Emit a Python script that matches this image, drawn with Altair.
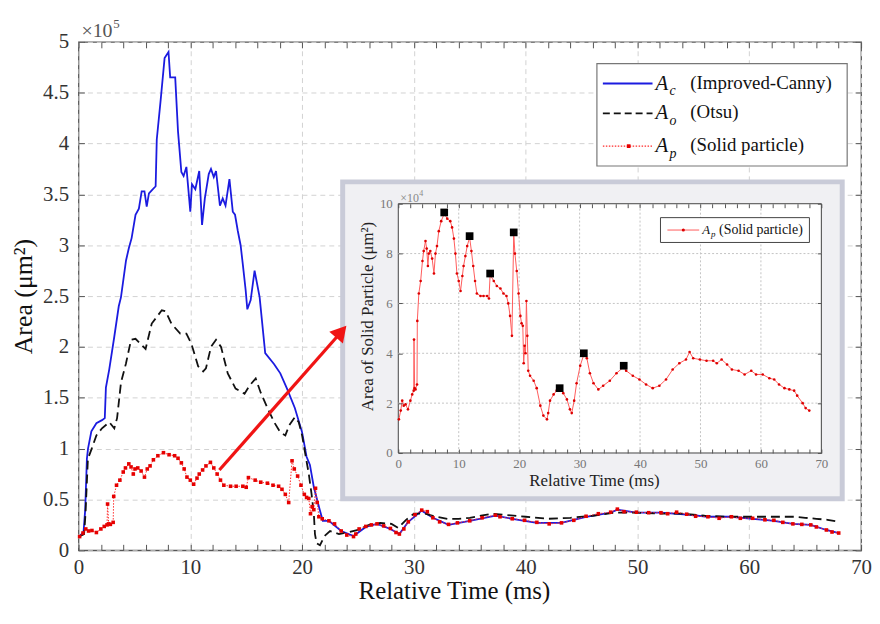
import altair as alt
import pandas as pd

# ---------------- data ----------------
# A_c (Improved-Canny), area in units of 1e5 um^2
canny_t = [0.1, 0.45, 0.6, 0.75, 0.85, 1.15, 1.6, 2.1, 2.35, 2.45,
           2.75, 3.2, 3.6, 3.8, 4.25, 4.5, 4.75, 5.1, 5.4, 5.65,
           5.9, 6.1, 6.3, 6.55, 6.9, 7.0, 7.35, 7.7, 8.05, 8.2,
           8.65, 8.9, 9.2, 9.4, 9.65, 10.0, 10.15, 10.45, 10.8, 11.05,
           11.3, 11.65, 11.85, 12.1, 12.3, 12.65, 12.9, 13.15, 13.5, 13.8,
           14.0, 14.25, 14.5, 14.7, 14.95, 15.1, 15.4, 15.75, 16.2, 16.7,
           17.5, 18.05, 18.65, 19.35, 20.0, 20.4, 20.7, 21.05, 21.5, 21.85,
           22.4, 23.5, 24.6, 25.7, 26.7, 27.9, 28.7, 29.5, 30.7, 31.7,
           33.1, 35.0, 37.3, 38.8, 41.0, 43.2, 45.4, 47.6, 48.2, 49.9,
           52.1, 54.4, 56.3, 58.4, 60.3, 62.2, 63.9, 65.5, 66.9, 68.0]
canny_a = [0.14, 0.18, 0.4, 0.9, 1.0, 1.17, 1.25, 1.28, 1.3, 1.6,
           1.78, 2.1, 2.4, 2.49, 2.85, 2.97, 3.07, 3.3, 3.36, 3.53,
           3.53, 3.38, 3.51, 3.54, 3.58, 4.04, 4.43, 4.84, 4.9, 4.65,
           4.65, 4.12, 3.72, 3.68, 3.77, 3.33, 3.6, 3.55, 3.73, 3.2,
           3.46, 3.7, 3.75, 3.67, 3.73, 3.39, 3.46, 3.39, 3.65, 3.33,
           3.3, 3.14, 3.0, 2.81, 2.56, 2.37, 2.46, 2.75, 2.49, 1.94,
           1.83, 1.74, 1.59, 1.40, 1.16, 0.92, 0.84, 0.62, 0.43, 0.29,
           0.29, 0.19, 0.14, 0.23, 0.26, 0.21, 0.16, 0.28, 0.39, 0.32,
           0.25, 0.29, 0.34, 0.31, 0.27, 0.27, 0.33, 0.37, 0.40, 0.37,
           0.37, 0.35, 0.33, 0.33, 0.31, 0.29, 0.26, 0.25, 0.20, 0.17]

# A_o (Otsu), area in units of 1e5 um^2
otsu_t = [0.1, 0.5, 0.62, 0.84, 1.15, 1.6, 2.1, 2.75, 3.2, 3.45,
          3.8, 4.25, 4.7, 5.1, 6.0, 6.55, 7.45, 7.8, 8.3, 9.1,
          9.65, 10.1, 10.7, 11.15, 11.4, 11.85, 12.3, 12.75, 13.35, 14.05,
          14.85, 15.3, 15.85, 16.3, 16.9, 17.5, 18.05, 18.5, 18.85, 19.35,
          19.7, 20.0, 20.25, 20.6, 20.85, 21.05, 21.15, 21.3, 21.6, 22.0,
          22.5, 23.3, 24.2, 25.0, 26.0, 27.0, 28.0, 28.6, 29.3, 30.0,
          31.0, 32.0, 33.0, 34.0, 35.0, 36.0, 37.0, 38.0, 40.0, 42.0,
          44.0, 46.0, 48.0, 50.0, 52.0, 54.0, 56.0, 58.0, 60.0, 62.0,
          64.0, 65.0, 66.0, 67.0, 68.0]
otsu_a = [0.14, 0.16, 0.35, 0.9, 0.99, 1.13, 1.2, 1.26, 1.2, 1.3,
          1.65, 1.84, 2.07, 2.08, 1.98, 2.23, 2.36, 2.35, 2.23, 2.13,
          2.13, 2.03, 1.81, 1.76, 1.79, 2.0, 2.07, 2.0, 1.74, 1.59,
          1.54, 1.62, 1.69, 1.55, 1.40, 1.26, 1.16, 1.13, 1.23, 1.31,
          1.26, 1.13, 0.97, 0.75, 0.55, 0.36, 0.16, 0.07, 0.05, 0.14,
          0.19, 0.16, 0.18, 0.2, 0.25, 0.27, 0.26, 0.22, 0.3, 0.36,
          0.36, 0.33, 0.31, 0.31, 0.32, 0.34, 0.36, 0.35, 0.33, 0.31,
          0.32, 0.34, 0.37, 0.37, 0.36, 0.36, 0.34, 0.33, 0.33, 0.33,
          0.33, 0.32, 0.31, 0.3, 0.28]

# A_p (Solid particle), area in units of 1e4 um^2
solid_t = [0.1, 0.4, 0.65, 0.9, 1.2, 1.6, 2.0, 2.3, 2.55, 2.6,
           2.7, 2.85, 3.1, 3.15, 3.4, 3.7, 4.0, 4.2, 4.5, 4.7,
           4.9, 5.05, 5.3, 5.6, 5.9, 6.15, 6.4, 6.7, 7.1, 7.6,
           8.1, 8.6, 8.9, 9.2, 9.45, 9.7, 10.0, 10.3, 10.6, 10.8,
           11.1, 11.4, 11.8, 12.1, 12.4, 12.7, 13.0, 13.6, 14.1, 14.7,
           15.0, 15.2, 15.8, 16.3, 16.9, 17.4, 17.9, 18.2, 18.5, 18.8,
           19.1, 19.3, 19.6, 19.9, 20.2, 20.4, 20.6, 20.75, 20.9, 21.05,
           21.2, 21.35, 21.5, 21.8, 22.4, 22.9, 23.5, 24.0, 24.6, 24.8,
           25.1, 25.7, 26.2, 26.7, 27.3, 27.9, 28.4, 28.7, 29.1, 29.5,
           30.1, 30.7, 31.2, 31.7, 32.3, 33.1, 33.9, 35.0, 36.1, 37.3,
           37.7, 38.8, 39.9, 41.0, 42.1, 43.2, 44.3, 45.4, 46.5, 47.6,
           48.2, 48.8, 49.9, 51.0, 52.1, 52.7, 53.5, 54.4, 55.2, 56.3,
           57.3, 58.4, 59.2, 60.3, 61.4, 62.2, 63.0, 63.9, 64.7, 65.5,
           66.0, 66.9, 67.4, 68.0]
solid_a = [1.35, 1.7, 2.1, 1.9, 1.95, 1.75, 2.1, 2.35, 2.5, 4.55,
           2.6, 2.55, 2.75, 5.3, 6.4, 6.9, 7.7, 8.1, 8.5, 8.2,
           7.5, 8.0, 8.1, 7.8, 7.2, 8.0, 8.3, 8.9, 9.3, 9.6,
           9.4, 9.3, 9.05, 8.6, 8.0, 7.2, 6.9, 6.5, 7.1, 7.5,
           7.9, 8.3, 8.65, 8.1, 7.5, 6.9, 6.4, 6.3, 6.3, 6.3,
           6.2, 7.15, 6.9, 6.7, 6.6, 6.4, 6.3, 6.0, 5.5, 4.7,
           8.8, 8.0, 7.3, 6.4, 5.5, 5.2, 5.1, 3.6, 4.3, 4.0,
           6.1, 4.7, 3.3, 3.1, 2.9, 2.6, 1.9, 1.5, 1.35, 1.6,
           2.1, 2.35, 2.5, 2.6, 2.4, 2.15, 1.75, 1.6, 2.1, 2.8,
           3.5, 3.95, 3.8, 3.2, 2.8, 2.55, 2.7, 2.9, 3.2, 3.45,
           3.3, 3.1, 2.95, 2.75, 2.6, 2.7, 2.95, 3.35, 3.6, 3.75,
           4.05, 3.8, 3.75, 3.7, 3.7, 3.6, 3.75, 3.55, 3.35, 3.3,
           3.15, 3.3, 3.15, 3.15, 3.0, 2.95, 2.75, 2.6, 2.55, 2.5,
           2.3, 2.0, 1.8, 1.7]

# marked peaks in the inset (units of 1e4 um^2)
peak_t = [7.6, 11.8, 15.2, 19.1, 26.7, 30.7, 37.3]
peak_a = [9.65, 8.7, 7.2, 8.85, 2.6, 4.0, 3.5]

# axis tick values
x_ticks = [0, 10, 20, 30, 40, 50, 60, 70]
x_minor = list(range(0, 71, 2))
y_ticks = [0, 0.5, 1, 1.5, 2, 2.5, 3, 3.5, 4, 4.5, 5]
inset_y_ticks = [0, 2, 4, 6, 8, 10]
inset_grid_x = [10, 20, 30, 40, 50, 60]
inset_grid_y = [2, 4, 6, 8]

# annotation arrow (main-chart data coordinates)
arrow_t = [12.6, 23.2]
arrow_a = [0.79, 2.11]
arrow_head_t = [23.5]
arrow_head_a = [2.15]

legend_subs = ["c", "o", "p"]
legend_labels = ["(Improved-Canny)", "(Otsu)", "(Solid particle)"]

# ---------------- layout ----------------
FONT = "Liberation Serif"
W, H = 788, 512
IN_X = [322, 748]
IN_Y = [414, 163]

sx = alt.Scale(domain=[0, 70], nice=False, zero=False)
sy = alt.Scale(domain=[0, 5], nice=False, zero=False)
sxi = alt.Scale(domain=[0, 70], range=IN_X, nice=False, zero=False)
syi = alt.Scale(domain=[0, 10], range=IN_Y, nice=False, zero=False)


def tick_axis(orient, offset, values, size=6, z=0):
    return alt.Axis(orient=orient, offset=offset, values=values, labels=False,
                    domain=False, grid=False, ticks=True, tickSize=size,
                    tickColor="#555", tickWidth=1, title=None, zindex=z)


canny_df = pd.DataFrame({"t": canny_t, "a": canny_a})
otsu_df = pd.DataFrame({"t": otsu_t, "a": otsu_a})
solid_df = pd.DataFrame({"t": solid_t, "a": solid_a})
peak_df = pd.DataFrame({"t": peak_t, "a": peak_a})
arrow_df = pd.DataFrame({"t": arrow_t, "a": arrow_a})
head_df = pd.DataFrame({"t": arrow_head_t, "a": arrow_head_a})
one = pd.DataFrame({"k": [0]})

layers = []

# ---- main chart ----
blue = alt.Chart(canny_df).mark_line(color="#1b1be0", strokeWidth=1.8).encode(
    x=alt.X("t:Q", scale=sx, axis=alt.Axis(
        orient="bottom", values=x_ticks, grid=True, gridColor="#d2d2d2",
        gridDash=[5, 4], gridWidth=1, ticks=False, domain=False,
        labelFont=FONT, labelFontSize=21, labelColor="#333", labelPadding=6,
        labelFlush=False, title="Relative Time (ms)", titleFont=FONT,
        titleFontSize=25, titleFontWeight="normal", titleColor="#111",
        titlePadding=2, titleX=378, zindex=0)),
    y=alt.Y("a:Q", scale=sy, axis=alt.Axis(
        orient="left", values=y_ticks, format="~g", grid=True,
        gridColor="#d2d2d2", gridDash=[5, 4], gridWidth=1, ticks=False,
        domain=False, labelFont=FONT, labelFontSize=21, labelColor="#333",
        labelPadding=10, title="Area (μm²)", titleFont=FONT,
        titleFontSize=26, titleFontWeight="normal", titleColor="#111",
        titlePadding=6, zindex=0)),
)
layers.append(blue)

black = alt.Chart(otsu_df).mark_line(color="#111", strokeWidth=1.8, strokeDash=[9, 5]).encode(
    x=alt.X("t:Q", scale=sx, axis=tick_axis("top", -H, x_minor)),
    y=alt.Y("a:Q", scale=sy, axis=tick_axis("right", -W, y_ticks)),
)
layers.append(black)

red_base = alt.Chart(solid_df).transform_calculate(m="datum.a / 10")
red_line = red_base.mark_line(color="#ff2a2a", strokeWidth=1, strokeDash=[1.5, 1.5]).encode(
    x=alt.X("t:Q", scale=sx, axis=tick_axis("bottom", -H, x_minor)),
    y=alt.Y("m:Q", scale=sy, axis=tick_axis("left", -W, y_ticks)),
)
red_pts = red_base.mark_point(shape="square", filled=True, size=13, color="#e60000", opacity=1).encode(
    x=alt.X("t:Q", scale=sx, axis=None),
    y=alt.Y("m:Q", scale=sy, axis=None),
)
layers += [red_line, red_pts]

# ---- inset frame ----
frame = alt.Chart(one).mark_rect(fill="#f0f0f3", stroke="#c9cbd8", strokeWidth=5).encode(
    x=alt.value(266), x2=alt.value(769), y=alt.value(141), y2=alt.value(460))
layers.append(frame)

# ---- arrow ----
arrow = alt.Chart(arrow_df).mark_line(color="#f01414", strokeWidth=3.2).encode(
    x=alt.X("t:Q", scale=sx, axis=None), y=alt.Y("a:Q", scale=sy, axis=None))
head = alt.Chart(head_df).mark_point(shape="triangle-up", filled=True, size=330, angle=41,
                                     color="#f01414", opacity=1).encode(
    x=alt.X("t:Q", scale=sx, axis=None), y=alt.Y("a:Q", scale=sy, axis=None))
layers += [arrow, head]

# ---- inset plot ----
box_df = pd.DataFrame({"t0": [0], "t1": [70], "a0": [0], "a1": [10]})
inset_box = alt.Chart(box_df).mark_rect(fill="white", stroke="#444", strokeWidth=1).encode(
    x=alt.X("t0:Q", scale=sxi, axis=alt.Axis(
        orient="bottom", offset=IN_Y[0] - H, values=x_ticks, ticks=False,
        domain=False, grid=False, labelFont=FONT, labelFontSize=13,
        labelColor="#777", labelPadding=5, labelFlush=False,
        title="Relative Time (ms)", titleFont=FONT, titleFontSize=17,
        titleFontWeight="normal", titleColor="#222", titlePadding=2,
        titleX=519, zindex=1)),
    x2="t1:Q",
    y=alt.Y("a0:Q", scale=syi, axis=alt.Axis(
        orient="left", offset=-IN_X[0], values=inset_y_ticks, ticks=False,
        domain=False, grid=False, labelFont=FONT, labelFontSize=13,
        labelColor="#777", labelPadding=6,
        title="Area of Solid Particle (μm²)", titleFont=FONT,
        titleFontSize=17, titleFontWeight="normal", titleColor="#222",
        titlePadding=3, titleY=276, zindex=1)),
    y2="a1:Q",
)
layers.append(inset_box)

gx_df = pd.DataFrame({"t": inset_grid_x, "a0": [0] * len(inset_grid_x), "a1": [10] * len(inset_grid_x)})
gy_df = pd.DataFrame({"a": inset_grid_y, "t0": [0] * len(inset_grid_y), "t1": [70] * len(inset_grid_y)})
grid_x = alt.Chart(gx_df).mark_rule(color="#c4c4c4", strokeDash=[2, 2], strokeWidth=1).encode(
    x=alt.X("t:Q", scale=sxi, axis=tick_axis("top", -IN_Y[0], x_minor, 4, 1)),
    y=alt.Y("a0:Q", scale=syi, axis=tick_axis("right", IN_X[0] - W, inset_y_ticks, 4, 1)),
    y2="a1:Q",
)
grid_y = alt.Chart(gy_df).mark_rule(color="#c4c4c4", strokeDash=[2, 2], strokeWidth=1).encode(
    x=alt.X("t0:Q", scale=sxi, axis=tick_axis("bottom", IN_Y[1] - H, x_minor, 4, 1)),
    x2="t1:Q",
    y=alt.Y("a:Q", scale=syi, axis=tick_axis("left", -IN_X[1], inset_y_ticks, 4, 1)),
)
layers += [grid_x, grid_y]

in_line = alt.Chart(solid_df).mark_line(color="#ff5c5c", strokeWidth=1).encode(
    x=alt.X("t:Q", scale=sxi, axis=None), y=alt.Y("a:Q", scale=syi, axis=None))
in_pts = alt.Chart(solid_df).mark_point(shape="circle", filled=True, size=7, color="#dd0000", opacity=1).encode(
    x=alt.X("t:Q", scale=sxi, axis=None), y=alt.Y("a:Q", scale=syi, axis=None))
peaks = alt.Chart(peak_df).mark_point(shape="square", filled=True, size=60, color="black", opacity=1).encode(
    x=alt.X("t:Q", scale=sxi, axis=None), y=alt.Y("a:Q", scale=syi, axis=None))
layers += [in_line, in_pts, peaks]


def txt(s, x, y, size, color="#111", style="normal", align="left", baseline="middle"):
    return alt.Chart(one).mark_text(text=s, font=FONT, fontSize=size, fontStyle=style,
                                    color=color, align=align, baseline=baseline).encode(
        x=alt.value(x), y=alt.value(y))


def hrule(x1, x2, y, color, width, dash=None):
    kw = dict(color=color, strokeWidth=width)
    if dash is not None:
        kw["strokeDash"] = dash
    return alt.Chart(one).mark_rule(**kw).encode(x=alt.value(x1), x2=alt.value(x2), y=alt.value(y))


def dot(x, y, color, size, shape="circle"):
    return alt.Chart(one).mark_point(shape=shape, filled=True, size=size, color=color, opacity=1).encode(
        x=alt.value(x), y=alt.value(y))


# ---- inset legend ----
layers.append(alt.Chart(one).mark_rect(fill="white", stroke="#444", strokeWidth=1).encode(
    x=alt.value(586), x2=alt.value(736), y=alt.value(177), y2=alt.value(202)))
layers.append(hrule(593, 625, 189.5, "#ff5c5c", 1))
layers.append(dot(609, 189.5, "#dd0000", 10))
layers.append(txt("A", 628, 189, 13, style="italic"))
layers.append(txt(legend_subs[2], 637, 194, 9, style="italic"))
layers.append(txt(legend_labels[2], 645, 189, 14))

# ---- main legend ----
layers.append(alt.Chart(one).mark_rect(fill="white", stroke="#777", strokeWidth=1.2).encode(
    x=alt.value(522), x2=alt.value(774), y=alt.value(22), y2=alt.value(125)))
rows_y = [42, 72, 105]
layers.append(hrule(528, 578, rows_y[0], "#1b1be0", 2))
layers.append(hrule(528, 578, rows_y[1], "#111", 1.8, [7, 4]))
layers.append(hrule(528, 578, rows_y[2], "#ff2a2a", 1.2, [1.5, 1.5]))
layers.append(dot(554, rows_y[2], "#e60000", 14, "square"))
for i in range(3):
    layers.append(txt("A", 581, rows_y[i], 21, style="italic"))
    layers.append(txt(legend_subs[i], 595, rows_y[i] + 8, 14, style="italic"))
    layers.append(txt(legend_labels[i], 616, rows_y[i] - 1, 19))

# ---- exponent labels ----
layers.append(txt("×10", 3, -5, 20, color="#555", baseline="alphabetic"))
layers.append(txt("5", 35, -14, 13, color="#555", baseline="alphabetic"))
layers.append(txt("×10", 324, 161, 12, color="#888", baseline="alphabetic"))
layers.append(txt("4", 343, 155, 8, color="#888", baseline="alphabetic"))

chart = alt.layer(*layers).resolve_scale(x="independent", y="independent").properties(
    width=W, height=H,
    autosize=alt.AutoSizeParams(type="none"),
    padding={"left": 71, "top": 32, "right": 11, "bottom": 56},
    background="white",
).configure_view(stroke="#555", strokeWidth=1.3)

chart.save("out.html", embed_options={"renderer": "svg", "actions": False})
